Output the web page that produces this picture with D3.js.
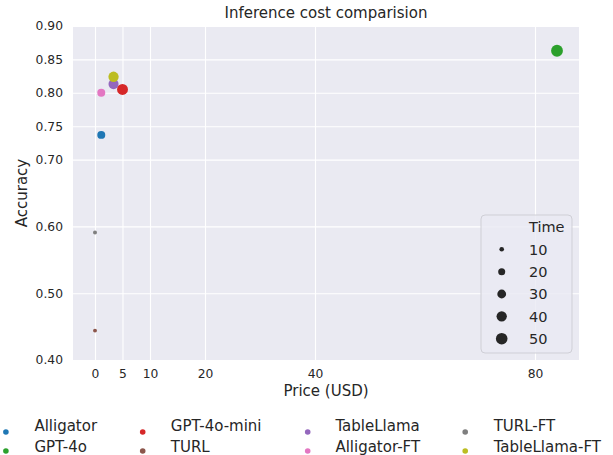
<!DOCTYPE html>
<html><head><meta charset="utf-8">
<script src="https://cdn.jsdelivr.net/npm/d3@7"></script>
<style>
body{margin:0;background:#fff}
text{font-family:"DejaVu Sans",sans-serif;fill:#262626}
</style>
</head><body>
<svg id="c" width="613" height="455"></svg>
<script>
const models = ["Alligator","GPT-4o","GPT-4o-mini","TURL","TableLlama","Alligator-FT","TURL-FT","TableLlama-FT"];
const prices = [1.14, 84.0, 5.0, 0.0, 3.37, 1.14, 0.0, 3.37];
const accuracy = [0.737, 0.863, 0.805, 0.444, 0.813, 0.800, 0.591, 0.824];
const times = [25, 52, 45, 8, 38, 25, 8, 40];
const colors = ["#1f77b4","#2ca02c","#d62728","#8c564b","#9467bd","#e377c2","#7f7f7f","#bcbd22"];
const xTicks = [0,5,10,20,40,80];
const yTicks = [0.40,0.50,0.60,0.70,0.75,0.80,0.85,0.90];
const sizeLegendTimes = [10,20,30,40,50];
const drawOrder = [0,1,3,4,2,5,6,7];

const svg = d3.select("#c");
const L=73,R=579,T=26,B=360;
const x = d3.scaleLinear().domain([-4,88]).range([L,R]);
const y = d3.scaleLinear().domain([0.40,0.90]).range([B,T]);
const area = d3.scaleLinear().domain([10,50]).range([5.3,33.6]);
const rad = t => Math.sqrt(Math.max(area(t),1));

svg.append("rect").attr("x",L).attr("y",T).attr("width",R-L).attr("height",B-T).attr("fill","#eaeaf2");

const gx = svg.append("g").attr("transform",`translate(0,${B})`)
  .call(d3.axisBottom(x).tickValues(xTicks).tickFormat(d3.format("d")).tickSize(-(B-T)).tickPadding(9));
gx.select(".domain").remove();
gx.selectAll("line").attr("stroke","#fff").attr("stroke-width",1.1);
gx.selectAll("text").attr("font-size","12.3px").attr("fill","#262626");

const gy = svg.append("g").attr("transform",`translate(${L},0)`)
  .call(d3.axisLeft(y).tickValues(yTicks).tickFormat(d3.format(".2f")).tickSize(-(R-L)).tickPadding(10));
gy.select(".domain").remove();
gy.selectAll("line").attr("stroke","#fff").attr("stroke-width",1.1);
gy.selectAll("text").attr("font-size","12.3px").attr("fill","#262626");

svg.append("g").selectAll("circle").data(drawOrder).join("circle")
  .attr("cx",i=>x(prices[i])).attr("cy",i=>y(accuracy[i])).attr("r",i=>rad(times[i]))
  .attr("fill",i=>colors[i]);

svg.append("text").attr("x",(L+R)/2).attr("y",18).attr("text-anchor","middle").attr("font-size","15px").text("Inference cost comparision");
svg.append("text").attr("x",(L+R)/2).attr("y",396).attr("text-anchor","middle").attr("font-size","15px").text("Price (USD)");
svg.append("text").attr("transform",`translate(27,${(T+B)/2}) rotate(-90)`).attr("text-anchor","middle").attr("font-size","15px").text("Accuracy");

// size legend
const lg = svg.append("g");
lg.append("rect").attr("x",481).attr("y",215).attr("width",91).attr("height",138).attr("rx",4)
  .attr("fill","#eaeaf2").attr("fill-opacity",0.8).attr("stroke","#cfcfd6");
lg.append("text").attr("x",529).attr("y",232).attr("font-size","14.5px").text("Time");
sizeLegendTimes.forEach((t,i)=>{
  const cy = 249.3 + i*22.35;
  lg.append("circle").attr("cx",501.7).attr("cy",cy).attr("r",rad(t)).attr("fill","#262626");
  lg.append("text").attr("x",529).attr("y",cy).attr("dy","0.36em").attr("font-size","14.5px").text(t);
});

// bottom legend
const dotX=[5.9,142.7,307.7,465.2], txtX=[34.4,170.8,335.4,493.7];
const txtY=[431,452], dotY=[432,451];
models.forEach((m,i)=>{
  const c=Math.floor(i/2), r=i%2;
  svg.append("circle").attr("cx",dotX[c]).attr("cy",dotY[r]).attr("r",2.8).attr("fill",colors[i]);
  svg.append("text").attr("x",txtX[c]).attr("y",txtY[r]).attr("font-size","15px").text(m);
});
</script>
</body></html>
